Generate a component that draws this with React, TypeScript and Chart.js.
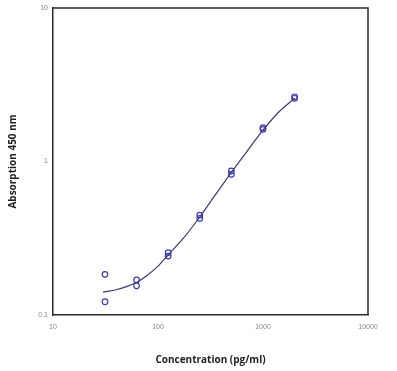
import React, { useEffect, useRef } from "react";
import { Chart, registerables } from "chart.js";

Chart.register(...registerables);

const concentrations = [31.25, 31.25, 62.5, 62.5, 125, 125, 250, 250, 500, 500, 1000, 1000, 2000, 2000];
const absorbances = [0.184, 0.122, 0.169, 0.155, 0.255, 0.242, 0.447, 0.426, 0.867, 0.826, 1.66, 1.62, 2.64, 2.58];

const curveX = [30, 40, 50, 62.5, 78, 100, 125, 177, 250, 354, 500, 707, 1000, 1414, 2000];
const curveY = [0.141, 0.146, 0.153, 0.163, 0.18, 0.208, 0.246, 0.32, 0.435, 0.61, 0.85, 1.17, 1.6, 2.1, 2.58];

const xTicks = [10, 100, 1000, 10000];
const yTicks = [0.1, 1, 10];

const xTitle = "Concentration (pg/ml)";
const yTitle = "Absorption 450 nm";

const boxPlugin = {
  id: "box",
  afterDatasetsDraw(chart: any) {
    const { ctx, chartArea } = chart;
    ctx.save();
    ctx.strokeStyle = "#2b2b2b";
    ctx.lineWidth = 1.5;
    ctx.beginPath();
    ctx.moveTo(chartArea.left, chartArea.top);
    ctx.lineTo(chartArea.right, chartArea.top);
    ctx.lineTo(chartArea.right, chartArea.bottom);
    ctx.stroke();
    ctx.restore();
  },
};

export default function App() {
  const ref = useRef<HTMLCanvasElement>(null);
  useEffect(() => {
    if (!ref.current) return;
    const chart = new Chart(ref.current, {
      type: "scatter",
      data: {
        datasets: [
          {
            type: "line",
            data: curveX.map((x, i) => ({ x, y: curveY[i] })),
            borderColor: "#3a3a78",
            borderWidth: 1.2,
            pointRadius: 0,
            cubicInterpolationMode: "monotone",
            fill: false,
          } as any,
          {
            data: concentrations.map((x, i) => ({ x, y: absorbances[i] })),
            borderColor: "#3b3bb0",
            backgroundColor: "rgba(0,0,0,0)",
            pointRadius: 2.8,
            borderWidth: 1.2,
          },
        ],
      },
      options: {
        animation: false,
        responsive: false,
        maintainAspectRatio: false,
        layout: { padding: { left: 7, right: 29, top: 8, bottom: 5 } },
        plugins: { legend: { display: false }, tooltip: { enabled: false } },
        scales: {
          x: {
            type: "logarithmic",
            min: 10,
            max: 10000,
            afterBuildTicks: (axis: any) => {
              axis.ticks = xTicks.map((v) => ({ value: v }));
            },
            afterFit: (axis: any) => {
              axis.height = 51;
            },
            grid: { display: false, drawTicks: true, tickLength: 4, tickColor: "#777", tickWidth: 1 } as any,
            border: { display: true, color: "#2b2b2b", width: 1.5 },
            ticks: {
              color: "#888",
              font: { size: 7, family: "Liberation Sans" },
              padding: 4,
              maxRotation: 0,
              autoSkip: false,
              callback: (v: any) => String(v),
            },
            title: {
              display: true,
              text: xTitle,
              color: "#222",
              font: { size: 10, family: "Open Sans", weight: "bold" },
              padding: { top: 0, bottom: 0 },
            },
          },
          y: {
            type: "logarithmic",
            min: 0.1,
            max: 10,
            afterBuildTicks: (axis: any) => {
              axis.ticks = yTicks.map((v) => ({ value: v }));
            },
            afterFit: (axis: any) => {
              axis.width = 46;
            },
            grid: { display: false, drawTicks: true, tickLength: 4, tickColor: "#777", tickWidth: 1 } as any,
            border: { display: true, color: "#2b2b2b", width: 1.5 },
            ticks: {
              color: "#888",
              font: { size: 7, family: "Liberation Sans" },
              padding: 1,
              autoSkip: false,
              callback: (v: any) => String(v),
            },
            title: {
              display: true,
              text: yTitle,
              color: "#222",
              font: { size: 10, family: "Open Sans", weight: "bold" },
              padding: { top: 0, bottom: 0 },
            },
          },
        },
      },
      plugins: [boxPlugin],
    });
    return () => chart.destroy();
  }, []);
  return (
    <div style={{ position: "fixed", left: 0, top: 0, width: 397, height: 371, background: "#fff" }}>
      <canvas ref={ref} width={397} height={371} style={{ width: 397, height: 371 }} />
    </div>
  );
}
